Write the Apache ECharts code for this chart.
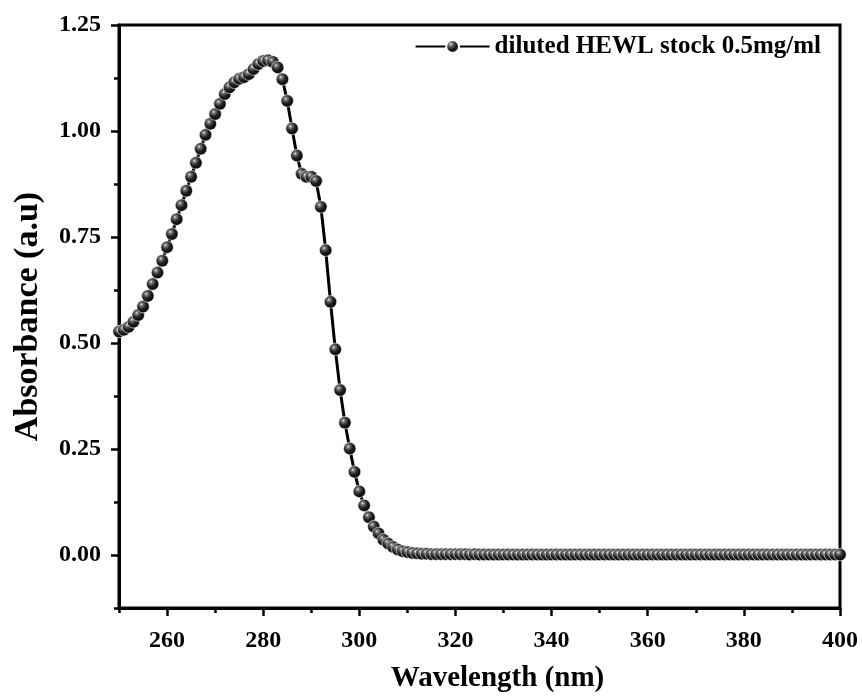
<!DOCTYPE html>
<html>
<head>
<meta charset="utf-8">
<script src="https://cdn.jsdelivr.net/npm/echarts@6/dist/echarts.min.js"></script>
<style>
html,body{margin:0;padding:0;background:#fff;}
#chart{width:862px;height:699px;}
</style>
</head>
<body>
<div id="chart"></div>
<script>
// ---- data ----
const seriesName = 'diluted HEWL stock 0.5mg/ml';
const wavelengthStart = 250; // nm, first sample
const wavelengthStep = 1;    // nm between samples
const absorbance = [
  0.527,0.531,0.538,0.550,0.566,0.586,0.611,0.639,0.666,0.694,   // 250-259
  0.726,0.757,0.792,0.825,0.859,0.892,0.925,0.958,0.991,1.017,   // 260-269
  1.040,1.064,1.087,1.103,1.115,1.123,1.127,1.134,1.146,1.158,   // 270-279
  1.165,1.167,1.163,1.150,1.122,1.071,1.006,0.942,0.899,0.892,   // 280-289
  0.892,0.882,0.821,0.719,0.597,0.485,0.389,0.312,0.251,0.196,   // 290-299
  0.150,0.117,0.089,0.067,0.051,0.036,0.027,0.019,0.013,0.009,   // 300-309
  0.007,0.005,0.004,0.003,0.003,0.002,0.002,0.002,0.002,0.002,   // 310-319
  0.002,0.002,0.002,0.001,0.002,0.001,0.001,0.001,0.001,0.001,   // 320-329
  0.001,0.001,0.001,0.001,0.001,0.001,0.001,0.001,0.001,0.001,   // 330-339
  0.001,0.001,0.001,0.001,0.001,0.001,0.001,0.001,0.001,0.001,   // 340-349
  0.001,0.001,0.001,0.001,0.001,0.001,0.001,0.001,0.001,0.001,   // 350-359
  0.001,0.001,0.001,0.001,0.001,0.001,0.001,0.001,0.001,0.001,   // 360-369
  0.001,0.001,0.001,0.001,0.001,0.001,0.001,0.001,0.001,0.001,   // 370-379
  0.001,0.001,0.001,0.001,0.001,0.001,0.001,0.001,0.001,0.001,   // 380-389
  0.001,0.001,0.001,0.001,0.001,0.001,0.001,0.001,0.001,0.001,   // 390-399
  0.001                                                          // 400
];
const xMajorTicks = [260,280,300,320,340,360,380,400];
const xMinorTicks = [250,270,290,310,330,350,370,390];
const yMajorTicks = [0,0.25,0.5,0.75,1.0,1.25];
const yMinorTicks = [-0.125,0.125,0.375,0.625,0.875,1.125];
const xRange = [250, 400];
const yRange = [-0.125, 1.25];
const xTitle = 'Wavelength (nm)';
const yTitle = 'Absorbance (a.u)';

// ---- build ----
const points = absorbance.map((v, i) => [wavelengthStart + i * wavelengthStep, v]);
const FONT = '"Liberation Serif","Times New Roman",serif';
const sphere = {
  type: 'radial', x: 0.38, y: 0.34, r: 0.7,
  colorStops: [
    {offset: 0, color: '#eeeeee'},
    {offset: 0.16, color: '#7a7a7a'},
    {offset: 0.5, color: '#222222'},
    {offset: 1, color: '#000000'}
  ]
};
const axisLineStyle = {color: '#000', width: 3};

const chart = echarts.init(document.getElementById('chart'), null, {renderer: 'canvas'});
chart.setOption({
  animation: false,
  backgroundColor: '#fff',
  grid: {left: 119, right: 22, top: 25, bottom: 91, show: true, borderColor: '#000', borderWidth: 3, backgroundColor: 'transparent'},
  legend: {
    data: [seriesName],
    right: 36, top: 29,
    itemWidth: 74, itemHeight: 16,
    textStyle: {fontFamily: FONT, fontWeight: 'bold', fontSize: 25, color: '#000'},
    itemGap: 4
  },
  xAxis: [{
    type: 'value', min: xRange[0], max: xRange[1],
    name: xTitle, nameLocation: 'middle', nameGap: 56,
    nameTextStyle: {fontFamily: FONT, fontWeight: 'bold', fontSize: 29, color: '#000', padding: [0, 0, 0, 36]},
    axisLine: {show: true, onZero: false, lineStyle: axisLineStyle},
    axisTick: {show: true, inside: false, length: 8, lineStyle: {color: '#000', width: 2.5}, customValues: xMajorTicks},
    axisLabel: {show: true, margin: 21, fontFamily: FONT, fontWeight: 'bold', fontSize: 24, color: '#000', customValues: xMajorTicks},
    splitLine: {show: false}
  }, {
    type: 'value', min: xRange[0], max: xRange[1], position: 'bottom', offset: 0,
    axisLine: {show: false, onZero: false},
    axisTick: {show: true, inside: false, length: 5, lineStyle: {color: '#000', width: 2.5}, customValues: xMinorTicks},
    axisLabel: {show: false},
    splitLine: {show: false}
  }],
  yAxis: [{
    type: 'value', min: yRange[0], max: yRange[1],
    name: yTitle, nameLocation: 'middle', nameGap: 74, nameRotate: 90,
    nameTextStyle: {fontFamily: FONT, fontWeight: 'bold', fontSize: 34, color: '#000'},
    axisLine: {show: true, onZero: false, lineStyle: axisLineStyle},
    axisTick: {show: true, inside: false, length: 8, lineStyle: {color: '#000', width: 2.5}, customValues: yMajorTicks},
    axisLabel: {show: true, margin: 18, fontFamily: FONT, fontWeight: 'bold', fontSize: 24, color: '#000', customValues: yMajorTicks,
      formatter: v => v.toFixed(2)},
    splitLine: {show: false}
  }, {
    type: 'value', min: yRange[0], max: yRange[1], position: 'left', offset: 0,
    axisLine: {show: false, onZero: false},
    axisTick: {show: true, inside: false, length: 5, lineStyle: {color: '#000', width: 2.5}, customValues: yMinorTicks},
    axisLabel: {show: false},
    splitLine: {show: false}
  }],
  series: [{
    name: seriesName,
    type: 'line',
    xAxisIndex: 0, yAxisIndex: 0,
    data: points,
    symbol: 'circle',
    symbolSize: 12.5,
    showAllSymbol: true,
    clip: false,
    lineStyle: {color: '#000', width: 3},
    itemStyle: {color: sphere, borderColor: '#ffffff', borderWidth: 0.6}
  }]
});
</script>
</body>
</html>
